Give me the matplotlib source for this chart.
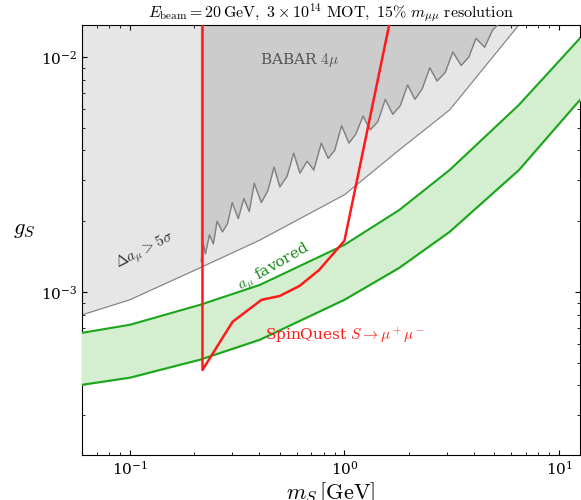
import numpy as np
import matplotlib.pyplot as plt

plt.rcParams['mathtext.fontset'] = 'cm'
plt.rcParams['font.family'] = 'DejaVu Serif'

# a_mu favored band (upper / lower edges)
m_band = [0.0598, 0.1, 0.212, 0.403, 1.0, 1.80, 3.09, 6.5, 12.5]
g_band_hi = [6.69e-4, 7.24e-4, 8.8e-4, 1.07e-3, 1.585e-3, 2.23e-3, 3.30e-3, 6.25e-3, 1.2e-2]
g_band_lo = [4.02e-4, 4.31e-4, 5.14e-4, 6.25e-4, 9.25e-4, 1.265e-3, 1.80e-3, 3.30e-3, 6.56e-3]

# Delta a_mu > 5 sigma exclusion boundary
m_5sig = [0.0598, 0.1, 0.212, 0.403, 1.0, 1.80, 3.09, 6.5, 12.5]
g_5sig = [7.98e-4, 9.25e-4, 1.265e-3, 1.66e-3, 2.59e-3, 4.02e-3, 5.95e-3, 1.37e-2, 3e-2]

# BABAR 4mu exclusion lower edge
m_babar = [0.215, 0.22, 0.225, 0.235, 0.245, 0.255, 0.27, 0.285, 0.30, 0.32, 0.34, 0.36,
           0.38, 0.41, 0.44, 0.47, 0.50, 0.54, 0.58, 0.62, 0.67, 0.72, 0.78, 0.84,
           0.90, 0.97, 1.05, 1.13, 1.22, 1.32, 1.43, 1.55, 1.68, 1.82, 1.97, 2.13,
           2.3, 2.5, 2.7, 2.95, 3.2, 3.5, 3.8, 4.1, 4.5, 4.9, 5.3]
g_babar = [1.35e-3, 1.6e-3, 1.45e-3, 1.75e-3, 1.6e-3, 2.0e-3, 1.8e-3, 1.95e-3, 2.4e-3, 2.05e-3,
           2.5e-3, 2.2e-3, 2.9e-3, 2.4e-3, 2.7e-3, 3.4e-3, 2.8e-3, 3.1e-3, 3.9e-3, 3.2e-3,
           3.6e-3, 3.3e-3, 4.3e-3, 3.7e-3, 4.0e-3, 5.1e-3, 4.3e-3, 4.7e-3, 5.6e-3, 4.9e-3,
           5.3e-3, 6.6e-3, 5.7e-3, 6.2e-3, 7.6e-3, 6.6e-3, 7.3e-3, 9.0e-3, 7.9e-3, 8.6e-3,
           1.05e-2, 9.2e-3, 1.0e-2, 1.2e-2, 1.1e-2, 1.3e-2, 1.4e-2]

# SpinQuest projected reach
m_sq = [0.218, 0.218, 0.301, 0.411, 0.499, 0.618, 0.763, 1.0, 1.65]
g_sq = [2e-2, 4.65e-4, 7.45e-4, 9.25e-4, 9.6e-4, 1.06e-3, 1.24e-3, 1.65e-3, 1.5e-2]

fig = plt.figure(figsize=(5.81, 5.0), dpi=100)
ax = fig.add_axes([0.141, 0.09, 0.857, 0.86])
ax.set_xscale('log')
ax.set_yscale('log')

ax.fill_between(m_5sig, g_5sig, 1, color='#e6e6e6', zorder=1)
ax.plot(m_5sig, g_5sig, color='#808080', lw=0.8, zorder=2)
ax.fill_between(m_babar, g_babar, 1, color='#cccccc', zorder=2)
ax.fill_between([m_babar[-1], 12.5], [g_babar[-1]] * 2, 1, color='#cccccc', zorder=2)
ax.plot(m_babar, g_babar, color='#808080', lw=1.0, zorder=3)
ax.fill_between(m_band, g_band_lo, g_band_hi, color='#d4efd0', zorder=3)
ax.plot(m_band, g_band_hi, color='#1aa51a', lw=1.5, zorder=4)
ax.plot(m_band, g_band_lo, color='#1aa51a', lw=1.5, zorder=4)
ax.plot(m_sq, g_sq, color='#ff1a1a', lw=1.8, zorder=5)

ax.set_xlim(0.0598, 12.5)
ax.set_ylim(2.02e-4, 1.368e-2)
ax.tick_params(which='both', direction='in', top=True, right=True, labelsize=11)
ax.set_xlabel(r'$m_S\,[\mathrm{GeV}]$', fontsize=16, labelpad=2)
ax.set_ylabel(r'$g_S$', fontsize=16, rotation=0, labelpad=12)
ax.set_title(r'$E_{\rm beam}=20\,{\rm GeV},\ 3\times10^{14}\ {\rm MOT},\ 15\%\ m_{\mu\mu}\ {\rm resolution}$',
             fontsize=11.5, pad=4)

ax.text(0.62, 9.7e-3, r'BABAR $4\mu$', color='#555555', fontsize=11, ha='center', va='center', zorder=6)
ax.text(0.117, 1.5e-3, r'$\Delta a_\mu > 5\sigma$', color='#333333', fontsize=11, rotation=27,
        ha='center', va='center', zorder=6)
ax.text(0.47, 1.27e-3, r'$a_\mu$ favored', color='#1a8a1a', fontsize=11, rotation=30,
        ha='center', va='center', zorder=6)
ax.text(1.0, 6.5e-4, r'SpinQuest $S\rightarrow\mu^+\mu^-$', color='#ff1a1a', fontsize=11,
        ha='center', va='center', zorder=6)

fig.savefig('out.png', dpi=100)
